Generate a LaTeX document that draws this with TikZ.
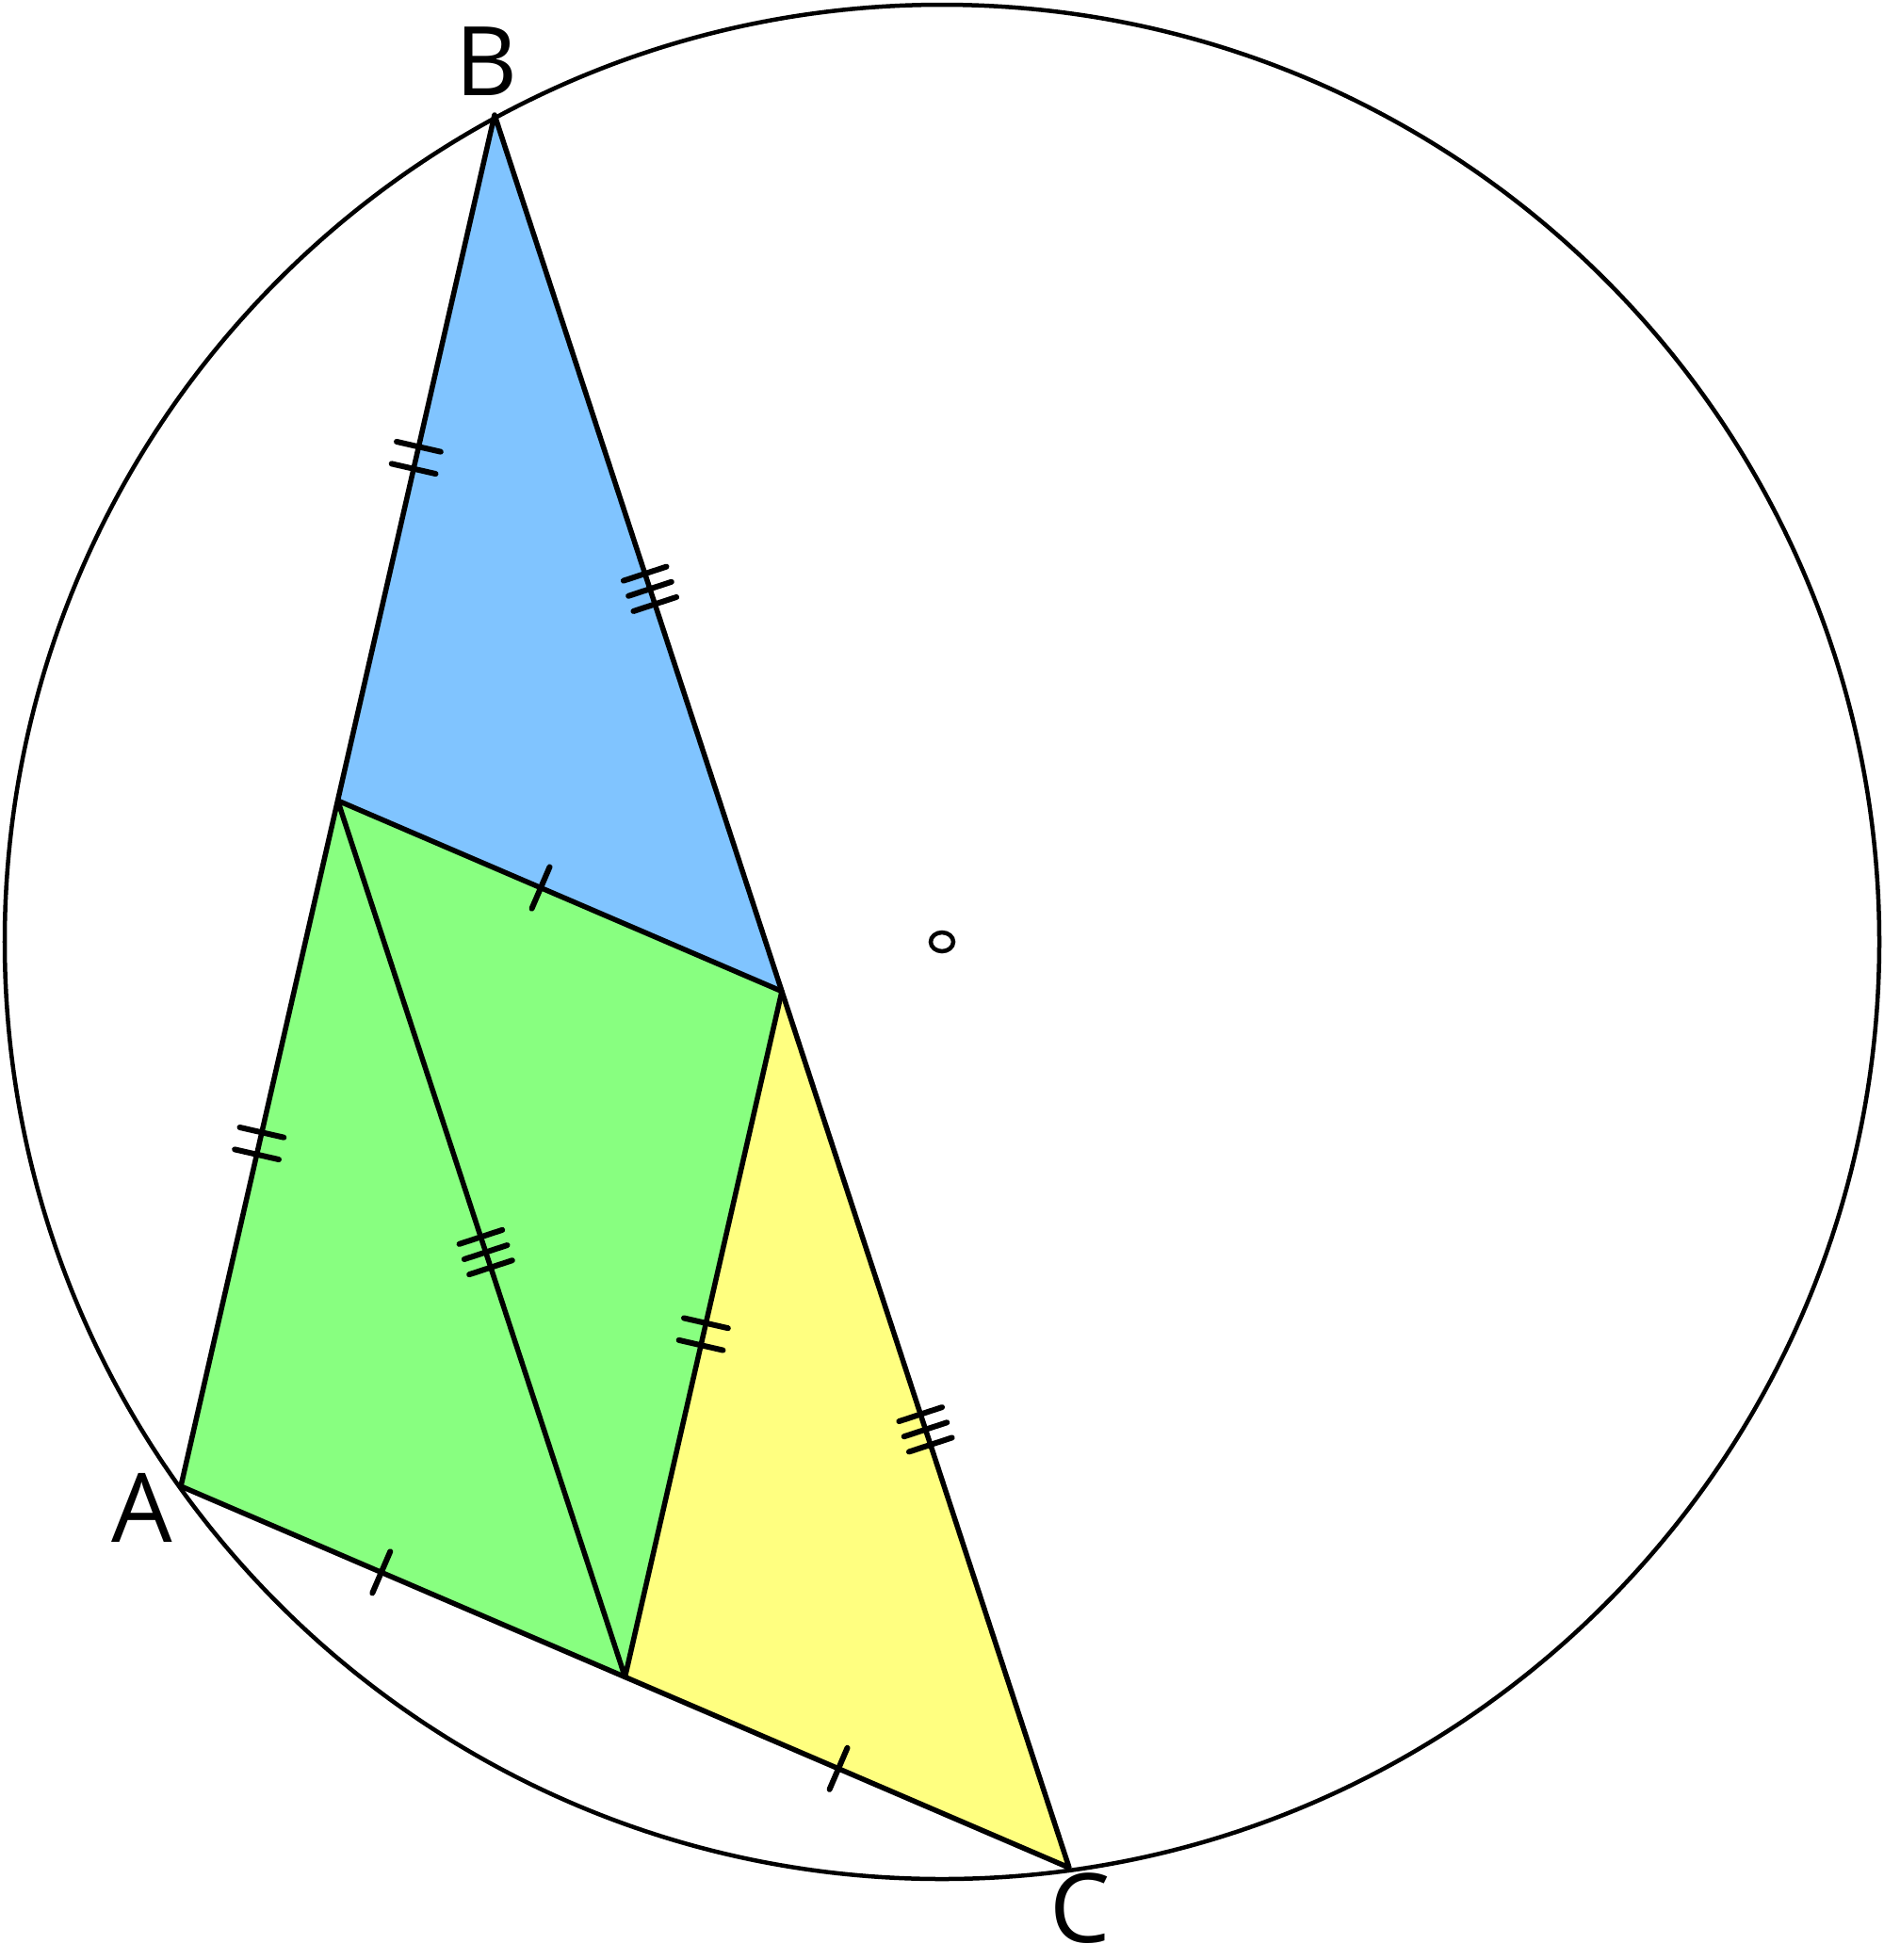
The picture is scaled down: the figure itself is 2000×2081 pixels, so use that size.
\documentclass[tikz,border=0pt]{standalone}
\usepackage{fontspec}
\setmainfont{Open Sans}
\usetikzlibrary{calc}
\definecolor{fblue}{RGB}{128,196,255}
\definecolor{fgreen}{RGB}{136,255,128}
\definecolor{fyellow}{RGB}{255,255,128}
\tikzset{
  edge/.style={line width=0.055cm, line join=round},
  ring/.style={line width=0.045cm},
  tickline/.style={line width=0.06cm, line cap=round},
  lbl/.style={font=\fontsize{29}{29}\selectfont, inner sep=0pt}
}
\newcommand\onetick[3]{%
  \coordinate (tm) at ($(#1)!0.5!(#2)$);
  \coordinate (ts) at ($(tm)!#3!(#2)$);
  \draw[tickline] ($(ts)!0.24cm!90:(#2)$) -- ($(ts)!0.24cm!-90:(#2)$);
}
\begin{document}
\begin{tikzpicture}[x=0.01cm,y=-0.01cm]
\useasboundingbox (0,0) rectangle (2000,2081);
\coordinate (O) at (1000,1000);
\coordinate (A) at (192,1578);
\coordinate (B) at (525,122);
\coordinate (C) at (1135,1983);
\coordinate (Mab) at ($(A)!0.5!(B)$);
\coordinate (Mbc) at ($(B)!0.5!(C)$);
\coordinate (Mac) at ($(A)!0.5!(C)$);
% fills
\fill[fblue] (B) -- (Mab) -- (Mbc) -- cycle;
\fill[fgreen] (A) -- (Mab) -- (Mbc) -- (Mac) -- cycle;
\fill[fyellow] (Mbc) -- (Mac) -- (C) -- cycle;
% circle
\draw[ring] (O) circle[radius=995];
\draw[line width=0.045cm] (O) ellipse[x radius=12, y radius=10];
% edges
\draw[edge] (A) -- (B) -- (C) -- cycle;
\draw[edge] (Mab) -- (Mbc) -- (Mac) -- cycle;
% ticks: AB halves and Mbc-Mac (double)
\onetick{B}{Mab}{0.12cm}\onetick{B}{Mab}{-0.12cm}
\onetick{Mab}{A}{0.12cm}\onetick{Mab}{A}{-0.12cm}
\onetick{Mbc}{Mac}{0.12cm}\onetick{Mbc}{Mac}{-0.12cm}
% BC halves and Mab-Mac (triple)
\onetick{B}{Mbc}{0.40cm}\onetick{B}{Mbc}{0.57cm}\onetick{B}{Mbc}{0.23cm}
\onetick{Mbc}{C}{0cm}\onetick{Mbc}{C}{0.17cm}\onetick{Mbc}{C}{-0.17cm}
\onetick{Mab}{Mac}{0.15cm}\onetick{Mab}{Mac}{0.32cm}\onetick{Mab}{Mac}{-0.02cm}
% AC halves and Mab-Mbc (single)
\onetick{A}{Mac}{-0.25cm}
\onetick{Mac}{C}{-0.1cm}
\onetick{Mab}{Mbc}{-0.22cm}
% labels
\node[lbl] (lA) at (151,1601) {A};
\node[lbl] (lB) at (517,65) {B};
\node[lbl] (lC) at (1147,2026) {C};
\end{tikzpicture}
\end{document}
